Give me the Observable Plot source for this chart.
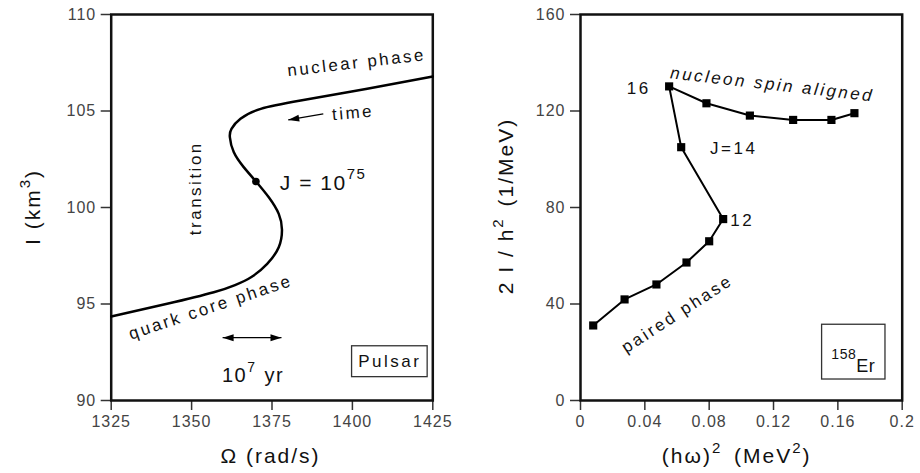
<!DOCTYPE html>
<html><head><meta charset="utf-8">
<script src="https://cdn.jsdelivr.net/npm/d3@7"></script>
<script src="https://cdn.jsdelivr.net/npm/@observablehq/plot@0.6"></script>
<style>
body{margin:0;background:#fff;}
#wrap{position:relative;width:920px;height:473px;overflow:hidden;}
#wrap svg{position:absolute;top:0;}
</style></head><body><div id="wrap"></div>
<script>
// ---------- data: left panel (pulsar) ----------
const pulsarOmega = [1325,1342.4,1356.9,1363.5,1368.6,1373.5,1377.1,1378.1,1377.1,1374.0,1370.0,1366.2,1363.1,1361.9,1362.4,1365.2,1371.5,1383.9,1404.6,1425];
const pulsarI     = [94.35,95.01,95.61,95.98,96.4,97.08,97.94,98.85,99.67,100.53,101.35,102.09,102.87,103.64,104.08,104.6,105.11,105.54,106.15,106.79];
const jDotOmega = [1370.0];
const jDotI = [101.35];
const leftXTicks = [1325,1350,1375,1400,1425];
const leftYTicks = [90,95,100,105,110];

// ---------- data: right panel (158Er) ----------
const erX = [0.0079,0.0274,0.0472,0.0659,0.0800,0.0887,0.0626,0.0551,0.0783,0.1053,0.1322,0.1560,0.1703];
const erY = [31.1,41.9,48.1,57.2,66.0,75.2,105.0,130.2,123.2,118.1,116.3,116.3,119.1];
const rightXTicks = [0,0.04,0.08,0.12,0.16,0.2];
const rightXTickLabels = ["0","0.04","0.08","0.12","0.16","0.2"];
const rightYTicks = [0,40,80,120,160];

// ---------- annotation texts ----------
const leftLabels = ["nuclear phase","time","transition","quark core phase","Pulsar"];
const leftLabelX = [1401.3,1400.2,1351.2,1355.9,1411.65];
const leftLabelY = [107.5,104.9,101.0,94.83,92.0];
const leftLabelRot = [-6.7,-5,-90,-18.5,0];
const rightLabels = ["16","nucleon spin aligned","J=14","12","paired phase"];
const rightLabelX = [0.0362,0.1192,0.0953,0.1005,0.0601];
const rightLabelY = [129.2,131,104.3,74.7,35.9];
const rightLabelRot = [0,6.5,0,0,-33];
const rightLabelItalic = [false,true,false,false,false];

const FONT = "'Liberation Sans', Arial, Helvetica, sans-serif";

const leftText = leftLabels.map((t,i)=>({t, x:leftLabelX[i], y:leftLabelY[i], r:leftLabelRot[i]}));
const rightText = rightLabels.map((t,i)=>({t, x:rightLabelX[i], y:rightLabelY[i], r:rightLabelRot[i], it:rightLabelItalic[i]}));
const curve = pulsarOmega.map((o,i)=>({o, I:pulsarI[i]}));
const er = erX.map((x,i)=>({x, y:erY[i]}));

const axisStyle = {tickSize:10, tickPadding:5, label:null, stroke:"#333", strokeWidth:1.5, fill:"#444"};

const left = Plot.plot({
  width:460, height:473,
  marginLeft:110.7, marginRight:27.7, marginTop:14, marginBottom:73,
  x:{domain:[1325,1425]}, y:{domain:[90,110]},
  style:{fontFamily:FONT, fontSize:"16px", color:"#333", background:"transparent"},
  marks:[
    Plot.axisX({...axisStyle, ticks:leftXTicks, tickFormat:d=>String(d)}),
    Plot.axisY({...axisStyle, ticks:leftYTicks, tickFormat:d=>String(d)}),
    Plot.rect([{x1:1399.9,x2:1423.4,y1:91.21,y2:92.81}], {x1:"x1",x2:"x2",y1:"y1",y2:"y2", fill:"white", stroke:"#333", strokeWidth:1.3}),
    Plot.frame({stroke:"#111", strokeWidth:2.5}),
    Plot.line(curve, {x:"o", y:"I", curve:"natural", stroke:"#000", strokeWidth:2.5}),
    Plot.dot(jDotOmega.map((o,i)=>({o, I:jDotI[i]})), {x:"o", y:"I", r:3.8, fill:"#000"}),
    Plot.text(leftText, {x:"x", y:"y", text:"t", rotate:"r", fontSize:17, fill:"#111"})
  ]
});

const right = Plot.plot({
  width:460, height:473,
  marginLeft:120, marginRight:18.3, marginTop:14, marginBottom:73,
  x:{domain:[0,0.2]}, y:{domain:[0,160]},
  style:{fontFamily:FONT, fontSize:"16px", color:"#333", background:"transparent"},
  marks:[
    Plot.axisX({...axisStyle, ticks:rightXTicks, tickFormat:(d,i)=>rightXTickLabels[rightXTicks.indexOf(d)]}),
    Plot.axisY({...axisStyle, ticks:rightYTicks, tickFormat:d=>String(d)}),
    Plot.rect([{x1:0.1502,x2:0.1896,y1:8.7,y2:31.4}], {x1:"x1",x2:"x2",y1:"y1",y2:"y2", fill:"white", stroke:"#333", strokeWidth:1.3}),
    Plot.frame({stroke:"#111", strokeWidth:2.5}),
    Plot.line(er, {x:"x", y:"y", stroke:"#000", strokeWidth:2}),
    Plot.dot(er, {x:"x", y:"y", symbol:"square", r:4.6, fill:"#000"}),
    Plot.text(rightText.filter(d=>!d.it), {x:"x", y:"y", text:"t", rotate:"r", fontSize:17, fill:"#111"}),
    Plot.text(rightText.filter(d=>d.it), {x:"x", y:"y", text:"t", rotate:"r", fontSize:17, fontStyle:"italic", fill:"#111"})
  ]
});

const wrap = document.getElementById("wrap");
left.style.left = "0px";
right.style.left = "460px";
wrap.appendChild(left);
wrap.appendChild(right);

for (const svg of [left,right]) {
  d3.select(svg).selectAll("g[aria-label='text'] text").attr("letter-spacing", "2.5px");
  d3.select(svg).selectAll("g[aria-label$='tick label'] text").attr("letter-spacing", "1px");
}

function rich(svg, x, y, parts, {rotate=0, size=21, anchor="middle", spacing=2}={}) {
  const t = d3.select(svg).append("text")
    .attr("transform", `translate(${x},${y}) rotate(${rotate})`)
    .attr("text-anchor", anchor).attr("font-family", FONT)
    .attr("font-size", size).attr("letter-spacing", spacing+"px").attr("fill", "#111");
  let shift = 0;
  for (const p of parts) {
    const s = p.shift || 0;
    const ts = t.append("tspan").text(p.t).attr("dy", (s - shift)).attr("font-size", p.size || size);
    if (p.dx) ts.attr("dx", p.dx);
    shift = s;
  }
  return t;
}
function arrowHead(svg, x, y, angle, len=11, half=3.5) {
  const a = angle*Math.PI/180, c=Math.cos(a), s=Math.sin(a);
  const bx = x - len*c, by = y - len*s;
  const pts = [[x,y],[bx - half*s, by + half*c],[bx + half*s, by - half*c]];
  d3.select(svg).append("path").attr("d", "M"+pts.map(p=>p.join(",")).join("L")+"Z").attr("fill","#000");
}

{
  const sx = left.scale("x"), sy = left.scale("y");
  const tx1 = sx.apply(1391.1), ty1 = sy.apply(104.82), tx2 = sx.apply(1380.2), ty2 = sy.apply(104.51);
  d3.select(left).append("line").attr("x1",tx1).attr("y1",ty1).attr("x2",tx2).attr("y2",ty2).attr("stroke","#000").attr("stroke-width",1.3);
  arrowHead(left, tx2, ty2, Math.atan2(ty2-ty1, tx2-tx1)*180/Math.PI);
  const ax1 = sx.apply(1359.8), ax2 = sx.apply(1378.1), ay = sy.apply(93.23);
  d3.select(left).append("line").attr("x1",ax1).attr("y1",ay).attr("x2",ax2).attr("y2",ay).attr("stroke","#000").attr("stroke-width",1.3);
  arrowHead(left, ax1, ay, 180); arrowHead(left, ax2, ay, 0);
  rich(left, sx.apply(1359.6), sy.apply(90.95), [{t:"10"},{t:"7", size:14, shift:-10},{t:"yr", shift:0, dx:8}], {anchor:"start", size:20, spacing:1.5});
  rich(left, sx.apply(1377.6), sy.apply(100.88), [{t:"J = 10"},{t:"75", size:15, shift:-11}], {anchor:"start", size:21, spacing:1.5});
  rich(left, 270.5, 463, [{t:"Ω (rad/s)"}], {size:21, spacing:2});
  rich(left, 40, 207, [{t:"I (km"},{t:"3", size:15, shift:-10},{t:")", shift:0}], {rotate:-90, size:21, spacing:2});
}
{
  const sx = right.scale("x"), sy = right.scale("y");
  rich(right, sx.apply(0.1699), sy.apply(11.73), [{t:"158", size:14, shift:-13},{t:"Er", size:18, shift:0}], {size:18, spacing:0.5});
  rich(right, 736.7-460, 463, [{t:"(hω)"},{t:"2", size:15, shift:-10},{t:" (MeV", shift:0, dx:4},{t:"2", size:15, shift:-10},{t:")", shift:0}], {size:21, spacing:2});
  rich(right, 513-460, 206, [{t:"2 I / h"},{t:"2", size:15, shift:-10},{t:" (1/MeV)", shift:0, dx:3}], {rotate:-90, size:21, spacing:2});
}
</script></body></html>
